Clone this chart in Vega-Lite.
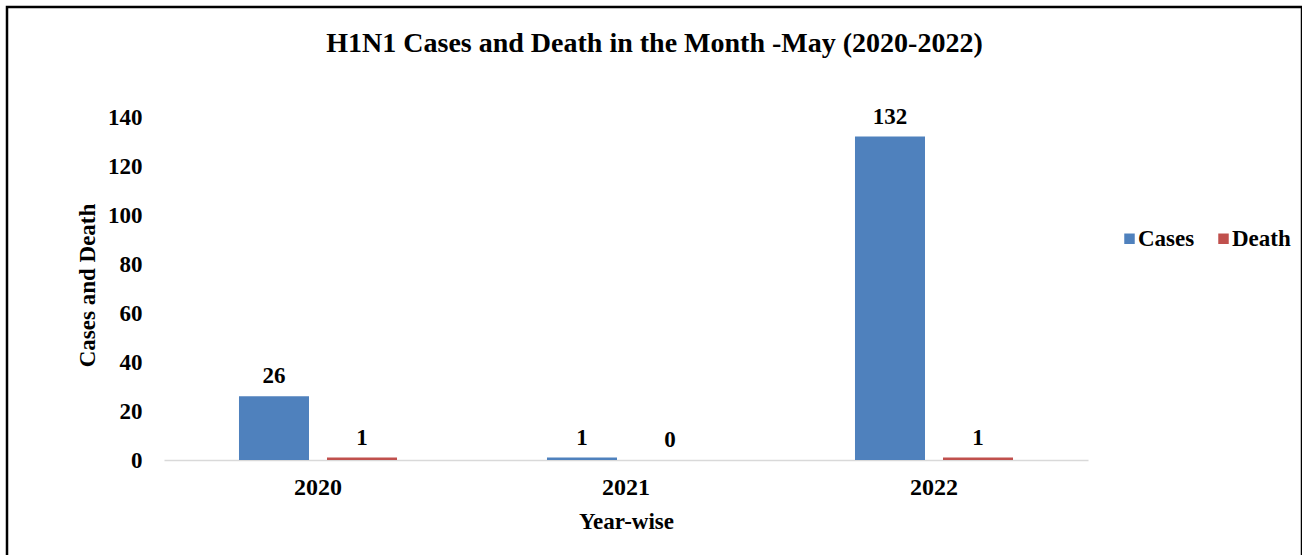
{
  "$schema": "https://vega.github.io/schema/vega-lite/v6.json",
  "width": 1295,
  "height": 560,
  "autosize": "none",
  "padding": {"left": 7, "top": 7, "right": 0, "bottom": 0},
  "background": "white",
  "config": {"view": {"stroke": "black", "strokeWidth": 2.5}, "font": "Liberation Serif"},
  "title": {"text": "H1N1 Cases and Death in the Month -May (2020-2022)", "fontSize": 28, "font": "Liberation Serif", "fontWeight": "bold", "color": "black", "anchor": "middle", "baseline": "alphabetic", "offset": 0, "dy": 73},
  "data": {"values": [
    {"Year": "2020", "Series": "Cases", "Value": 26},
    {"Year": "2020", "Series": "Death", "Value": 1},
    {"Year": "2021", "Series": "Cases", "Value": 1},
    {"Year": "2021", "Series": "Death", "Value": 0},
    {"Year": "2022", "Series": "Cases", "Value": 132},
    {"Year": "2022", "Series": "Death", "Value": 1}
  ]},
  "encoding": {
    "x": {"field": "Year", "type": "nominal", "scale": {"range": [157, 1081], "paddingInner": 0, "paddingOuter": 0},
      "axis": {"title": "Year-wise", "orient": "bottom", "offset": -107, "domainColor": "#d9d9d9", "domainWidth": 1.5, "ticks": false, "grid": false, "labelAngle": 0, "labelPadding": 15, "labelFontSize": 24, "labelFont": "Liberation Serif", "labelFontWeight": "bold", "labelColor": "black", "titleFontSize": 23, "titleFont": "Liberation Serif", "titleFontWeight": "bold", "titleColor": "black", "titleX": 619, "titleY": 61, "titleBaseline": "middle"}},
    "xOffset": {"field": "Series", "type": "nominal", "sort": ["Cases", "Death"], "scale": {"paddingInner": 0.2045, "paddingOuter": 0.852}},
    "y": {"field": "Value", "type": "quantitative", "scale": {"domain": [0, 140], "range": [453, 110], "nice": false, "zero": true},
      "axis": {"title": "Cases and Death", "orient": "left", "offset": -156, "domain": false, "ticks": false, "grid": false, "labelPadding": 21, "values": [0, 20, 40, 60, 80, 100, 120, 140], "labelFontSize": 23, "labelFont": "Liberation Serif", "labelFontWeight": "bold", "labelColor": "black", "titleFontSize": 23, "titleFont": "Liberation Serif", "titleFontWeight": "bold", "titleColor": "black", "titleX": -76, "titleY": 278, "titleBaseline": "middle", "titleAngle": 270}}
  },
  "layer": [
    {"mark": {"type": "bar"},
     "encoding": {"color": {"field": "Series", "type": "nominal", "scale": {"domain": ["Cases", "Death"], "range": ["#4F81BD", "#C0504D"]},
       "legend": {"title": null, "orient": "none", "direction": "horizontal", "legendX": 1111, "legendY": 220, "symbolType": "square", "symbolSize": 110, "symbolStrokeWidth": 0, "labelFontSize": 23, "labelFont": "Liberation Serif", "labelFontWeight": "bold", "labelColor": "black", "columnPadding": 17, "labelOffset": -3, "padding": 0}}}},
    {"mark": {"type": "text", "dy": -13, "baseline": "alphabetic", "fontSize": 23, "fontWeight": "bold", "font": "Liberation Serif", "color": "black"},
     "encoding": {"text": {"field": "Value", "type": "quantitative"}}}
  ]
}
